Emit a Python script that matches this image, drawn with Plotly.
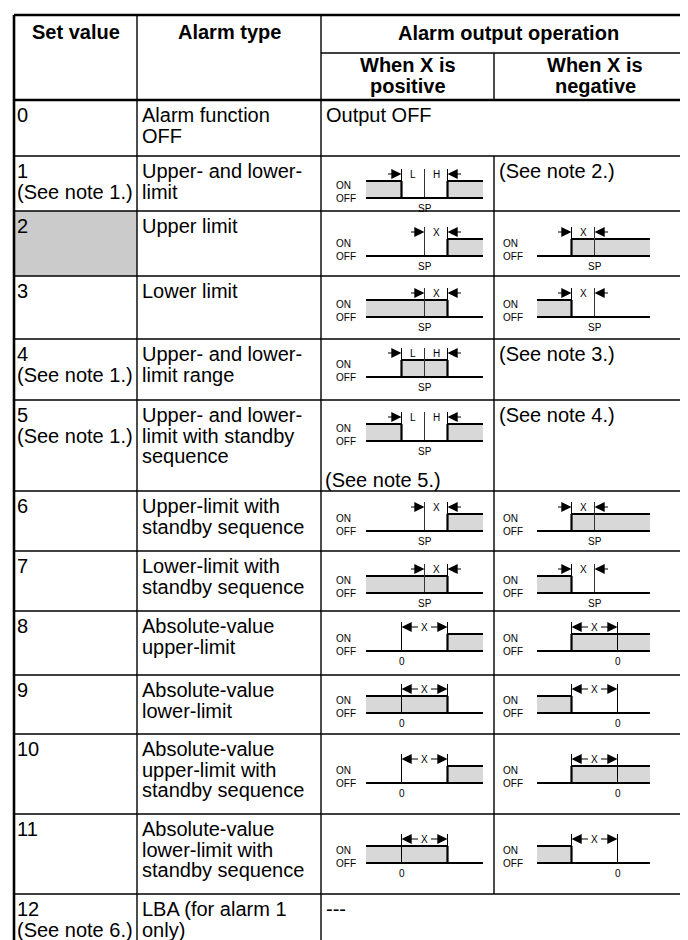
import plotly.graph_objects as go

# ---------------- data ----------------
header_top = ["Set value", "Alarm type", "Alarm output operation"]
header_sub = [["When X is", "positive"], ["When X is", "negative"]]

set_values = ["0", "1", "2", "3", "4", "5", "6", "7", "8", "9", "10", "11", "12"]
set_notes = ["", "(See note 1.)", "", "", "(See note 1.)", "(See note 1.)",
             "", "", "", "", "", "", "(See note 6.)"]
alarm_types = [
    ["Alarm function", "OFF"],
    ["Upper- and lower-", "limit"],
    ["Upper limit"],
    ["Lower limit"],
    ["Upper- and lower-", "limit range"],
    ["Upper- and lower-", "limit with standby", "sequence"],
    ["Upper-limit with", "standby sequence"],
    ["Lower-limit with", "standby sequence"],
    ["Absolute-value", "upper-limit"],
    ["Absolute-value", "lower-limit"],
    ["Absolute-value", "upper-limit with", "standby sequence"],
    ["Absolute-value", "lower-limit with", "standby sequence"],
    ["LBA (for alarm 1", "only)"],
]
# operation diagrams: "band:out", "band:in", "sp:upper", "sp:lower", "abs:upper", "abs:lower"
# plain text otherwise; None = merged with previous column
pos_ops = ["Output OFF", "band:out", "sp:upper", "sp:lower", "band:in", "band:out",
           "sp:upper", "sp:lower", "abs:upper", "abs:lower", "abs:upper", "abs:lower", "---"]
neg_ops = [None, "(See note 2.)", "sp:upper", "sp:lower", "(See note 3.)", "(See note 4.)",
           "sp:upper", "sp:lower", "abs:upper", "abs:lower", "abs:upper", "abs:lower", None]
pos_extra = ["", "", "", "", "", "(See note 5.)", "", "", "", "", "", "", ""]
highlight_rows = [2]

# ---------------- layout constants ----------------
W, H = 688, 940
col_x = [6, 129, 313, 486, 688]
hdr_top, hdr_mid, hdr_bot = 7, 45, 92
row_bounds = [92, 148, 203, 268, 331, 392, 483, 543, 603, 667, 726, 806, 886, 940]
diag_base = [None, 190, 248, 309, 369, 433, 523, 585, 643, 705, 775, 855, None]
# per operation column: label x, line start, line end, centre
diag_geom = [dict(lab=327, xs=358, xe=475, c=416.5), dict(lab=494, xs=529, xe=642, c=586.5)]
D = 23
ON_H = 17
MK_TOP = 29
ARR_Y = 24
ARR_LEN = 15

FONT = "Liberation Sans, Arial, Helvetica, sans-serif"
SMALL = "Liberation Sans Narrow, Arial Narrow, Liberation Sans, Arial, sans-serif"
BODY = 20
LINE = 20.5
FIRST = 15
SMALLSZ = 10
GRAY = "#d8d8d8"
CELLGRAY = "#cbcbcb"

shapes = []
ann = []


def line(x0, y0, x1, y1, w=1.3, color="black"):
    shapes.append(dict(type="line", x0=x0, y0=y0, x1=x1, y1=y1, xref="x", yref="y",
                       line=dict(color=color, width=w)))


def rect(x0, y0, x1, y1, fill):
    shapes.append(dict(type="rect", x0=x0, y0=y0, x1=x1, y1=y1, xref="x", yref="y",
                       fillcolor=fill, line=dict(width=0), layer="below"))


def text(x, y, s, size=BODY, anchor="left", bold=False, family=FONT):
    ann.append(dict(x=x, y=y, xref="x", yref="y", text=("<b>%s</b>" % s) if bold else s,
                    showarrow=False, xanchor=anchor, yanchor="middle",
                    font=dict(family=family, size=size, color="black"), borderpad=0))


def arrow(x_tail, x_tip, y):
    ann.append(dict(x=x_tip, y=y, ax=x_tail, ay=y, xref="x", yref="y", axref="x", ayref="y",
                    text="", showarrow=True, arrowhead=2, arrowsize=1.7, arrowwidth=1.2,
                    arrowcolor="black", standoff=0, startstandoff=0))


def diagram(g, B, op, sign):
    kind, mode = op.split(":")
    xs, xe, c = g["xs"], g["xe"], g["c"]
    on_y = B - ON_H
    top = B - MK_TOP
    ay = B - ARR_Y
    text(g["lab"], B - 13, "ON", size=SMALLSZ, family=SMALL)
    text(g["lab"], B, "OFF", size=SMALLSZ, family=SMALL)
    if kind == "band":
        a, b = c - D, c + D
        gray = [(xs, a), (b, xe)] if mode == "out" else [(a, b)]
    elif kind == "sp":
        t = c + sign * D
        a, b = min(c, t), max(c, t)
        gray = [(t, xe)] if mode == "upper" else [(xs, t)]
    else:
        z = c - sign * D
        t = c + sign * D
        a, b = min(z, t), max(z, t)
        gray = [(t, xe)] if mode == "upper" else [(xs, t)]
    for (g0, g1) in gray:
        rect(g0, on_y, g1, B, GRAY)
        line(g0, on_y, g1, on_y, w=2.2)
        for e in (g0, g1):
            if xs < e < xe:
                line(e, on_y, e, B, w=2.2)
    for e in (a, b):
        line(e, top, e, B, w=1)
    if kind == "abs":
        mid = (a + b) / 2
        arrow(mid - 5, a, ay)
        arrow(mid + 5, b, ay)
        text(mid, ay, "X", size=SMALLSZ, anchor="center", family=SMALL)
        text(z, B + 10, "0", size=SMALLSZ, anchor="center", family=SMALL)
    else:
        line(c, top, c, B, w=1, color="#333")
        arrow(a - ARR_LEN, a, ay)
        arrow(b + ARR_LEN, b, ay)
        if kind == "band":
            text((a + c) / 2, ay, "L", size=SMALLSZ, anchor="center", family=SMALL)
            text((c + b) / 2, ay, "H", size=SMALLSZ, anchor="center", family=SMALL)
        else:
            text((a + b) / 2, ay, "X", size=SMALLSZ, anchor="center", family=SMALL)
        text(c, B + 10, "SP", size=SMALLSZ, anchor="center", family=SMALL)
    line(xs, B, xe, B, w=2.2)


# highlighted cells
for r in highlight_rows:
    rect(col_x[0], row_bounds[r], col_x[1], row_bounds[r + 1], CELLGRAY)

# grid
line(col_x[0], hdr_top, W, hdr_top, w=2.6)
line(col_x[0], hdr_top, col_x[0], H, w=2.6)
line(col_x[2], hdr_mid, W, hdr_mid, w=1.4)
line(col_x[0], hdr_bot, W, hdr_bot, w=2.6)
line(col_x[1], hdr_top, col_x[1], H, w=1.4)
line(col_x[2], hdr_top, col_x[2], H, w=1.4)
line(col_x[3], hdr_mid, col_x[3], hdr_bot, w=1.4)
for y in row_bounds[1:-1]:
    line(col_x[0], y, W, y, w=1.4)
for r in range(len(set_values)):
    if neg_ops[r] is not None:
        line(col_x[3], row_bounds[r], col_x[3], row_bounds[r + 1], w=1.4)

# header text
text((col_x[0] + col_x[1]) / 2, 24, header_top[0], anchor="center", bold=True)
text((col_x[1] + col_x[2]) / 2, 24, header_top[1], anchor="center", bold=True)
text((col_x[2] + col_x[4]) / 2, 25, header_top[2], anchor="center", bold=True)
for j, lines in enumerate(header_sub):
    for i, s in enumerate(lines):
        text((col_x[2 + j] + col_x[3 + j]) / 2, 57 + i * 20.5, s, anchor="center", bold=True)

# body
for r in range(len(set_values)):
    y0 = row_bounds[r]
    first = y0 + FIRST
    text(col_x[0] + 2, first, set_values[r])
    if set_notes[r]:
        text(col_x[0] + 2, first + LINE, set_notes[r])
    for i, s in enumerate(alarm_types[r]):
        text(col_x[1] + 4, first + i * LINE, s)
    for j, op in enumerate([pos_ops[r], neg_ops[r]]):
        if op is None:
            continue
        if ":" in op:
            diagram(diag_geom[j], diag_base[r], op, 1 if j == 0 else -1)
        else:
            text(col_x[2 + j] + 4, first, op)
    if pos_extra[r]:
        text(col_x[2] + 3, row_bounds[r + 1] - 11, pos_extra[r])

fig = go.Figure(go.Scatter(x=[0], y=[0], mode="markers", marker=dict(opacity=0),
                           hoverinfo="skip", showlegend=False))
fig.update_layout(width=W, height=H, margin=dict(l=0, r=0, t=0, b=0),
                  paper_bgcolor="white", plot_bgcolor="white",
                  shapes=shapes, annotations=ann, showlegend=False)
fig.update_xaxes(range=[0, W], visible=False, fixedrange=True)
fig.update_yaxes(range=[H, 0], visible=False, fixedrange=True)
fig.write_html("out.html")
